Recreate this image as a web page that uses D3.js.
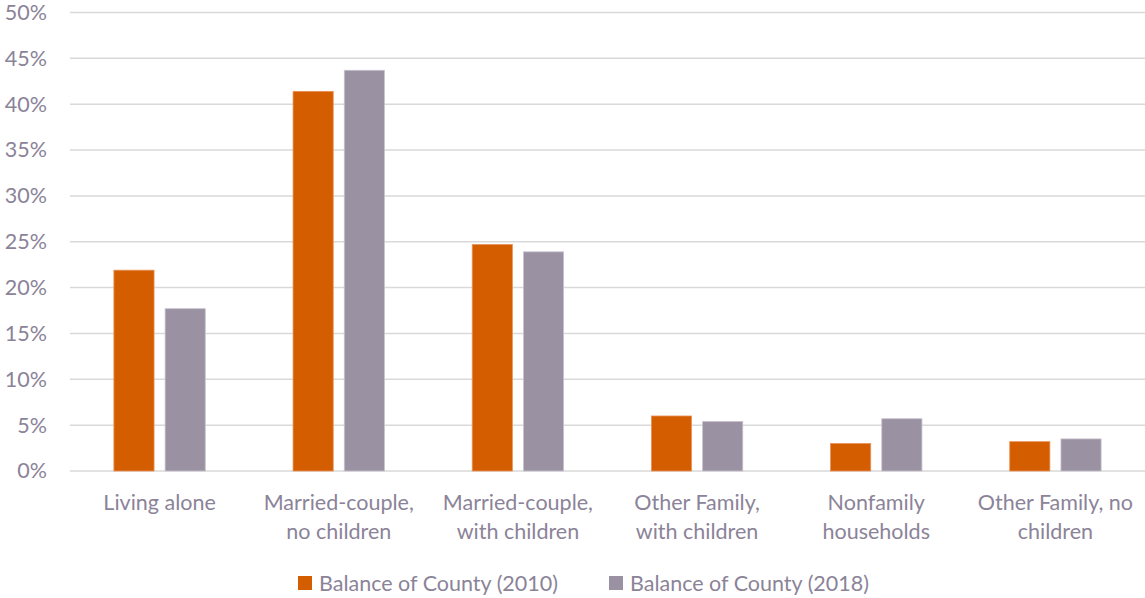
<!DOCTYPE html>
<html>
<head>
<meta charset="utf-8">
<script src="https://cdn.jsdelivr.net/npm/d3@7"></script>
<style>
  html, body { margin: 0; padding: 0; background: #fff; }
  svg { display: block; }
  text { font-family: Lato, "Open Sans", sans-serif; fill: #8b8398; }
</style>
</head>
<body>
<svg id="chart" width="1145" height="598"></svg>
<script>
// Household type shares, two survey years
const categories = [
  ["Living alone"],
  ["Married-couple,", "no children"],
  ["Married-couple,", "with children"],
  ["Other Family,", "with children"],
  ["Nonfamily", "households"],
  ["Other Family, no", "children"]
];
const series2010 = [0.219, 0.414, 0.247, 0.060, 0.030, 0.032];
const series2018 = [0.177, 0.437, 0.239, 0.054, 0.057, 0.035];
const seriesNames = ["Balance of County (2010)", "Balance of County (2018)"];
const yTicks = [0, 0.05, 0.10, 0.15, 0.20, 0.25, 0.30, 0.35, 0.40, 0.45, 0.50];

const colors = ["#d45d00", "#9a91a3"];
const svg = d3.select("#chart");

const margin = { left: 70, right: 0, top: 12.5, bottom: 127 };
const W = 1145, H = 598;
const fontSize = 21.5;

const x0 = d3.scaleBand()
  .domain(d3.range(categories.length))
  .range([margin.left, W - margin.right])
  .paddingInner(0.49)
  .paddingOuter(0.245);
const x1 = d3.scaleBand()
  .domain([0, 1])
  .range([0, x0.bandwidth()])
  .paddingInner(0.216);
const y = d3.scaleLinear().domain([0, 0.5]).range([H - margin.bottom, margin.top]);

// gridlines
svg.append("g")
  .selectAll("line")
  .data(yTicks)
  .join("line")
  .attr("x1", margin.left)
  .attr("x2", W)
  .attr("y1", d => y(d))
  .attr("y2", d => y(d))
  .attr("stroke", "#d9d9d9")
  .attr("stroke-width", 1.5);

// y axis labels
const yAxis = d3.axisLeft(y)
  .tickValues(yTicks)
  .tickFormat(d3.format(".0%"))
  .tickSize(0)
  .tickPadding(0);
const ya = svg.append("g").attr("transform", "translate(47,0)").call(yAxis);
ya.select(".domain").remove();
ya.selectAll("text").attr("font-size", fontSize).style("font-family", "Lato, sans-serif").attr("fill", "#8b8398");

// bars
const rows = categories.map((c, i) => [series2010[i], series2018[i]]);
const groups = svg.append("g")
  .selectAll("g")
  .data(rows)
  .join("g")
  .attr("transform", (d, i) => `translate(${x0(i)},0)`);
groups.selectAll("rect")
  .data(d => d)
  .join("rect")
  .attr("x", (d, j) => x1(j))
  .attr("y", d => y(d))
  .attr("width", x1.bandwidth())
  .attr("height", d => y(0) - y(d))
  .attr("fill", (d, j) => colors[j])
  .attr("stroke", (d, j) => j === 0 ? "#e9925a" : "#c8c2ce")
  .attr("stroke-width", 0.8);

// category labels
const xLabels = svg.append("g")
  .selectAll("text")
  .data(categories)
  .join("text")
  .attr("x", (d, i) => x0(i) + x0.bandwidth() / 2)
  .attr("y", 510)
  .attr("text-anchor", "middle")
  .attr("font-size", fontSize);
xLabels.selectAll("tspan")
  .data(d => d)
  .join("tspan")
  .attr("x", function () { return d3.select(this.parentNode).attr("x"); })
  .attr("dy", (d, k) => k === 0 ? 0 : 29)
  .text(d => d);

// legend
const legend = svg.append("g");
const legendX = [298, 609];
seriesNames.forEach((name, j) => {
  legend.append("rect")
    .attr("x", legendX[j])
    .attr("y", 576)
    .attr("width", 14)
    .attr("height", 14)
    .attr("fill", colors[j]);
  legend.append("text")
    .attr("x", legendX[j] + 21)
    .attr("y", 591)
    .attr("font-size", fontSize)
    .text(name);
});
</script>
</body>
</html>
